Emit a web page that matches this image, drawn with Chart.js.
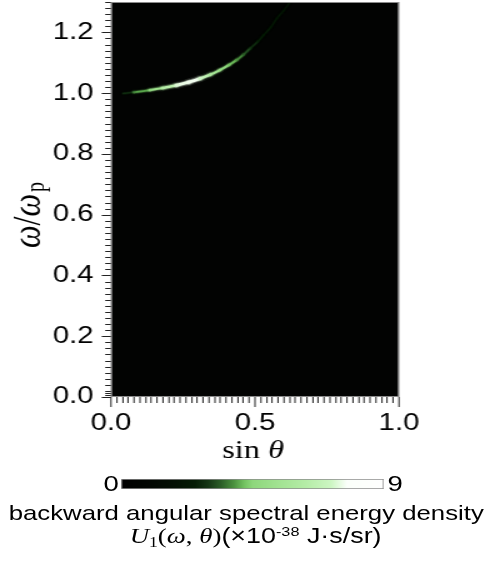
<!DOCTYPE html>
<html><head><meta charset="utf-8">
<script src="https://cdn.jsdelivr.net/npm/chart.js@4/dist/chart.umd.min.js"></script>
<style>
html,body{margin:0;padding:0;background:#fff;overflow:hidden;width:486px;height:563px;}
#wrap{position:absolute;left:0;top:0;width:389px;height:563px;transform:scaleX(1.25);transform-origin:0 0;}
#main{position:absolute;left:0;top:0;}
#cbar{position:absolute;left:96.8px;top:479px;}
.lbl{position:absolute;font-family:"Liberation Sans",Arial,sans-serif;color:#000;white-space:nowrap;}
#c0{left:0;width:95px;text-align:right;top:472.8px;font-size:22px;line-height:22px;}
#c9{left:310px;top:472.8px;font-size:22px;line-height:22px;}
#t1{left:2.5px;width:389px;text-align:center;top:500.5px;font-size:20.6px;line-height:24px;}
#t2{left:10px;width:389px;text-align:center;top:524px;font-size:21.5px;line-height:24px;}
.m{font-family:"Liberation Serif","Times New Roman",serif;}
.mi{font-family:"Liberation Serif","Times New Roman",serif;font-style:italic;}
sub{font-size:14px;vertical-align:-4px;line-height:0;}
sup{font-size:13px;vertical-align:7px;line-height:0;}
</style></head><body>
<div id="wrap">
<canvas id="main" width="389" height="470"></canvas>
<canvas id="cbar" width="210" height="10"></canvas>
<div class="lbl" id="c0">0</div>
<div class="lbl" id="c9">9</div>
<div class="lbl" id="t1">backward angular spectral energy density</div>
<div class="lbl" id="t2"><span class="mi">U</span><sub class="m">1</sub><span class="m">(</span><span class="mi">ω</span><span class="m">, </span><span class="mi">θ</span><span class="m">)</span>(×10<sup>-38</sup> J·s/sr)</div>
</div>
<script>
// ---- data ----
const sinTheta   = [0.043,0.08,0.135,0.18,0.228,0.27,0.309,0.345,0.378,0.41,0.436,0.46,0.483,0.51,0.53,0.555,0.576,0.60,0.622];
const omegaRatio = [0.999,1.003,1.010,1.017,1.026,1.036,1.048,1.061,1.076,1.093,1.109,1.127,1.147,1.170,1.191,1.217,1.246,1.272,1.300];
const energy     = [2.2,3.4,4.6,5.8,7.2,7.9,7.4,6.0,4.8,4.3,4.0,3.5,3.0,2.6,2.4,2.3,2.2,2.1,2.0];
const xTickValues = [0, 0.5, 1.0];
const yTickValues = [0, 0.2, 0.4, 0.6, 0.8, 1.0, 1.2];
const colorbarRange = [0, 9];
const cbarStops  = [0, 0.10, 0.20, 0.28, 0.33, 0.38, 0.43, 0.47, 0.50, 0.60, 0.70, 0.80, 0.86, 1.0];
const cbarColors = ['#000000','#020602','#041004','#061c06','#153515','#2c5e28','#4c9340','#74c462','#8ed77c','#a2e392','#b4eca6','#cdf6c3','#fbfffa','#ffffff'];

function hex2rgb(h){return [parseInt(h.slice(1,3),16),parseInt(h.slice(3,5),16),parseInt(h.slice(5,7),16)];}
function cmap(v, a){
  let t = (v - colorbarRange[0])/(colorbarRange[1]-colorbarRange[0]);
  t = Math.max(0, Math.min(1, t));
  let i = 0;
  while (i < cbarStops.length-2 && t > cbarStops[i+1]) i++;
  const f = (t - cbarStops[i])/(cbarStops[i+1]-cbarStops[i]);
  const c0 = hex2rgb(cbarColors[i]), c1 = hex2rgb(cbarColors[i+1]);
  const c = c0.map((x,k)=>Math.round(x + (c1[k]-x)*f));
  return `rgba(${c[0]},${c[1]},${c[2]},${a})`;
}
const arcPoints = sinTheta.map((s,i)=>({x:s, y:omegaRatio[i]}));
const segV = ctx => (energy[ctx.p0DataIndex]+energy[ctx.p1DataIndex])/2;
function arcSet(base, gain, alpha){
  return {data: arcPoints, borderWidth: base + gain*energy[0], pointRadius: 0, tension: 0.4,
    borderCapStyle:'round', borderColor: cmap(energy[0], alpha),
    segment:{borderColor: ctx => cmap(segV(ctx), alpha), borderWidth: ctx => base + gain*segV(ctx)}};
}

const decor = {
  id:'decor',
  beforeDatasetsDraw(chart){
    const {ctx, chartArea:a} = chart;
    ctx.save(); ctx.fillStyle = '#020302';
    ctx.fillRect(a.left, a.top, a.right-a.left, a.bottom-a.top); ctx.restore();
  },
  afterDraw(chart){
    const {ctx, chartArea:a, scales:{x, y}} = chart;
    ctx.save();
    ctx.strokeStyle = '#222'; ctx.lineWidth = 1;
    const hl = (x0,x1,py)=>{ctx.beginPath();ctx.moveTo(x0,py);ctx.lineTo(x1,py);ctx.stroke();};
    const vl = (px,y0,y1)=>{ctx.beginPath();ctx.moveTo(px,y0);ctx.lineTo(px,y1);ctx.stroke();};
    for (let i=0;i<=65;i++){
      const py = Math.round(y.getPixelForValue(i*0.02))+0.5;
      hl(a.left - (i%10===0 ? 7.4 : 4.6), a.left, py);
    }
    for (const v of [0.007, 0.013]){
      const py = Math.round(y.getPixelForValue(v))+0.5; hl(a.left-4.6, a.left, py); }
    for (let i=0;i<=50;i++){
      const px = Math.round(x.getPixelForValue(i*0.02)*1.25)/1.25;
      vl(px, a.bottom, a.bottom + (i%25===0 ? 10 : 6));
    }
    ctx.strokeStyle = '#8a8a8a';
    ctx.strokeRect(a.left+0.5, a.top+0.5, a.right-a.left-1, a.bottom-a.top-1);
    // x title: sin θ
    ctx.fillStyle = '#000'; ctx.textBaseline = 'alphabetic';
    const f1 = '26px "Liberation Serif", serif', f2 = 'italic 26px "Liberation Serif", serif';
    ctx.font = f1; const w1 = ctx.measureText('sin ').width;
    ctx.font = f2; const w2 = ctx.measureText('θ').width;
    let sx = 202.5 - (w1+w2)/2;
    ctx.font = f1; ctx.fillText('sin ', sx, 458);
    ctx.font = f2; ctx.fillText('θ', sx + w1, 458);
    // y title: ω/ω_p
    ctx.translate(32, 215); ctx.rotate(-Math.PI/2);
    const fi = 'italic 32px "Liberation Serif", serif', fr = '32px "Liberation Serif", serif', fs = '20px "Liberation Serif", serif';
    ctx.font = fi; const wo = ctx.measureText('ω').width;
    ctx.font = fr; const wsl = ctx.measureText('/').width;
    ctx.font = fs; const wp = ctx.measureText('p').width;
    const tot = wo*2 + wsl + wp + 2;
    let px = -tot/2;
    ctx.font = fi; ctx.fillText('ω', px, 0); px += wo;
    ctx.font = fr; ctx.fillText('/', px, 0); px += wsl;
    ctx.font = fi; ctx.fillText('ω', px, 0); px += wo + 2;
    ctx.font = fs; ctx.fillText('p', px, 3);
    ctx.restore();
  }
};

const tickFont = {family:'"Liberation Sans", Arial, sans-serif', size:23.5};
const noPad = s => { s.paddingTop = 0; s.paddingBottom = 0; s.paddingLeft = 0; s.paddingRight = 0; };
new Chart(document.getElementById('main'), {
  type:'line',
  data:{datasets:[arcSet(3, 0.6, 0.07), arcSet(1.5, 0.45, 0.35), arcSet(0.6, 0.3, 1)]},
  options:{
    responsive:false, animation:false,
    layout:{padding:{left:0, right:69.8, top:2, bottom:0}},
    plugins:{legend:{display:false}, tooltip:{enabled:false}},
    scales:{
      x:{type:'linear', min:0, max:1,
        afterBuildTicks: s => { s.ticks = xTickValues.map(v=>({value:v})); },
        ticks:{callback:v=>v.toFixed(1), font:tickFont, color:'#000', padding:12, maxRotation:0, autoSkip:false},
        grid:{display:false, drawTicks:false}, border:{display:false},
        afterFit: s => { s.height = 73; noPad(s); }},
      y:{type:'linear', min:0, max:1.3,
        afterBuildTicks: s => { s.ticks = yTickValues.map(v=>({value:v})); },
        ticks:{callback:v=>v.toFixed(1), font:tickFont, color:'#000', padding:14, autoSkip:false},
        grid:{display:false, drawTicks:false}, border:{display:false},
        afterFit: s => { s.width = 88.8; noPad(s); }}
    }
  },
  plugins:[decor]
});

new Chart(document.getElementById('cbar'), {
  type:'bar',
  data:{labels:['U'], datasets:[{data:[colorbarRange],
    backgroundColor: ctx => {
      const a = ctx.chart.chartArea; if (!a) return '#7c7';
      const g = ctx.chart.ctx.createLinearGradient(a.left, 0, a.right, 0);
      cbarStops.forEach((s,i)=>g.addColorStop(s, cbarColors[i]));
      return g;
    },
    borderColor:'#8c8c8c', borderWidth:1, borderSkipped:false, barPercentage:1, categoryPercentage:1}]},
  options:{indexAxis:'y', responsive:false, animation:false,
    layout:{padding:0},
    plugins:{legend:{display:false}, tooltip:{enabled:false}},
    scales:{x:{display:false, min:colorbarRange[0], max:colorbarRange[1]}, y:{display:false}}}
});
</script>
</body></html>
